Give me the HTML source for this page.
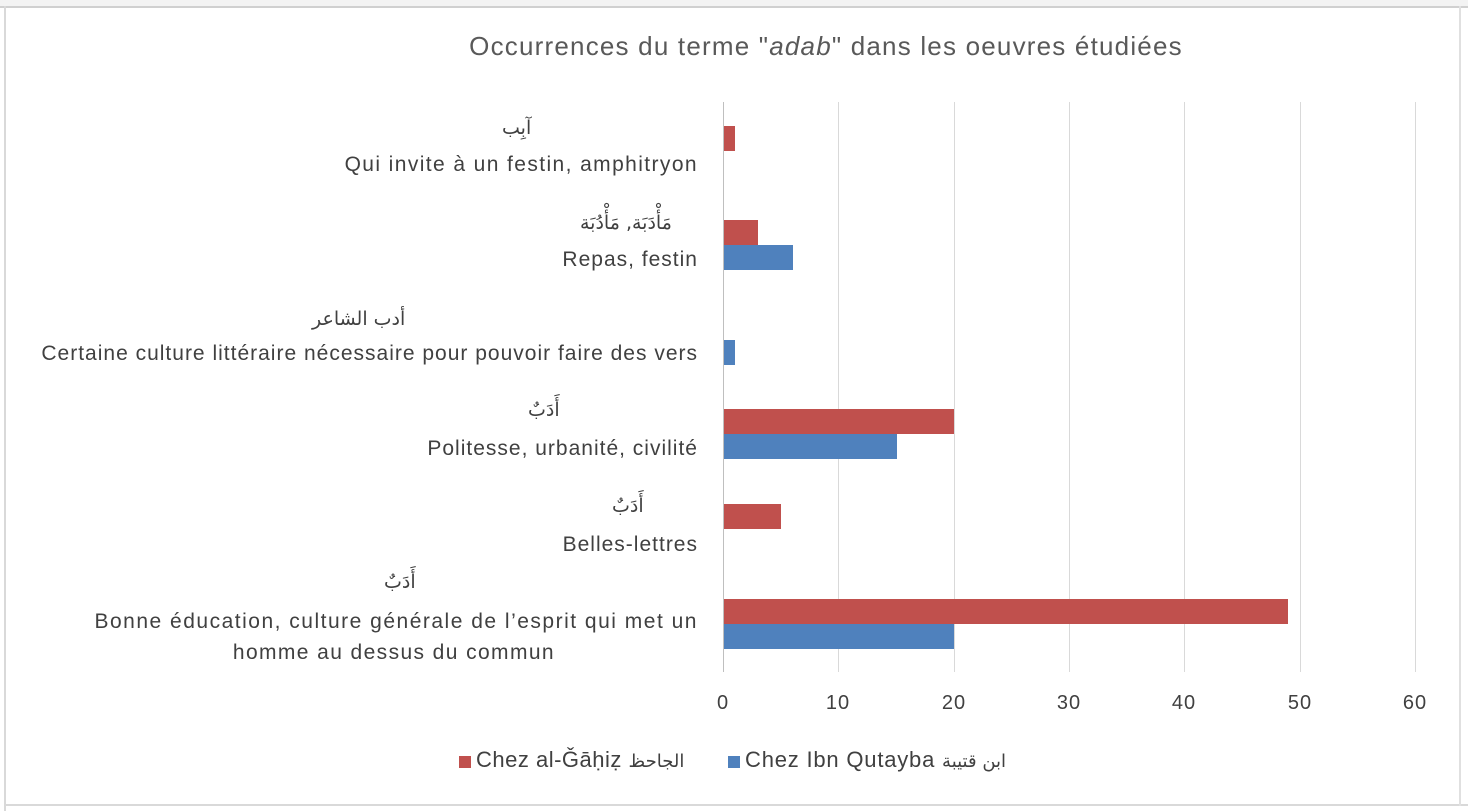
<!DOCTYPE html>
<html><head><meta charset="utf-8"><style>
body{margin:0;width:1468px;height:811px;background:#fff;position:relative;overflow:hidden;font-family:"Liberation Sans","DejaVu Sans",sans-serif;color:#404040}
.a{position:absolute}
.g{position:absolute;top:102px;height:570px;width:1px;background:#d9d9d9}
.r{position:absolute;background:#c0504d;height:25px;left:724px}
.b{position:absolute;background:#4f81bd;height:25px;left:724px}
.l{position:absolute;right:770px;text-align:right;font-size:21px;letter-spacing:1px;white-space:nowrap;line-height:26px}
.ar{position:absolute;font-size:19px;font-family:"DejaVu Sans",sans-serif}
.t{position:absolute;top:692px;font-size:20px;width:60px;text-align:center;letter-spacing:1px}
</style></head><body>
<div class="a" style="left:0;top:0;width:1468px;height:6px;background:#f3f3f3;border-bottom:2px solid #d0d0d0"></div>
<div class="a" style="left:4px;top:6px;width:2px;height:805px;background:#d9d9d9"></div>
<div class="a" style="left:6px;top:804px;width:1462px;height:2px;background:#d9d9d9"></div>
<div class="a" style="left:1459px;top:6px;width:2px;height:800px;background:#e0e0e0"></div>
<div class="a" style="left:0;top:31px;width:1468px;text-align:center;font-size:26px;letter-spacing:1.2px;color:#595959;padding-left:184px;box-sizing:border-box">Occurrences du terme "<i>adab</i>" dans les oeuvres étudiées</div>
<div class="g" style="left:723px;background:#bfbfbf"></div>
<div class="g" style="left:838px"></div><div class="g" style="left:954px"></div><div class="g" style="left:1069px"></div><div class="g" style="left:1184px"></div><div class="g" style="left:1300px"></div><div class="g" style="left:1415px"></div>
<div class="r" style="top:126px;width:11px"></div>
<div class="r" style="top:220px;width:34px"></div><div class="b" style="top:245px;width:69px"></div>
<div class="b" style="top:340px;width:11px"></div>
<div class="r" style="top:409px;width:230px"></div><div class="b" style="top:434px;width:173px"></div>
<div class="r" style="top:504px;width:57px"></div>
<div class="r" style="top:599px;width:564px"></div><div class="b" style="top:624px;width:230px"></div>
<div class="ar" style="left:502px;top:117px">آبِب</div>
<div class="l" style="top:152px;letter-spacing:1.4px">Qui invite à un festin, amphitryon</div>
<div class="ar" style="left:580px;top:212px">مَأْدَبَة, مَأْدُبَة</div>
<div class="l" style="top:247px">Repas, festin</div>
<div class="ar" style="left:312px;top:308px">أدب الشاعر</div>
<div class="l" style="top:341px">Certaine culture littéraire nécessaire pour pouvoir faire des vers</div>
<div class="ar" style="left:528px;top:399px">أَدَبٌ</div>
<div class="l" style="top:436px">Politesse, urbanité, civilité</div>
<div class="ar" style="left:612px;top:495px">أَدَبٌ</div>
<div class="l" style="top:532px">Belles-lettres</div>
<div class="ar" style="left:384px;top:571px">أَدَبٌ</div>
<div class="l" style="top:609px;letter-spacing:1.5px">Bonne éducation, culture générale de l’esprit qui met un</div>
<div class="l" style="top:640px;right:913px;letter-spacing:1.4px">homme au dessus du commun</div>
<div class="t" style="left:693px">0</div><div class="t" style="left:808px">10</div><div class="t" style="left:924px">20</div><div class="t" style="left:1039px">30</div><div class="t" style="left:1154px">40</div><div class="t" style="left:1270px">50</div><div class="t" style="left:1385px">60</div>
<div class="a" style="left:459px;top:756px;width:12px;height:12px;background:#c0504d"></div>
<div class="a" style="left:476px;top:747px;font-size:22px;letter-spacing:0.5px;white-space:nowrap">Chez al-Ǧāḥiẓ <span style="font-family:'DejaVu Sans',sans-serif;font-size:18px">الجاحظ</span></div>
<div class="a" style="left:728px;top:756px;width:12px;height:12px;background:#4f81bd"></div>
<div class="a" style="left:745px;top:747px;font-size:22px;letter-spacing:0.8px;white-space:nowrap">Chez Ibn Qutayba <span style="font-family:'DejaVu Sans',sans-serif;font-size:18px">ابن قتيبة</span></div>
</body></html>
